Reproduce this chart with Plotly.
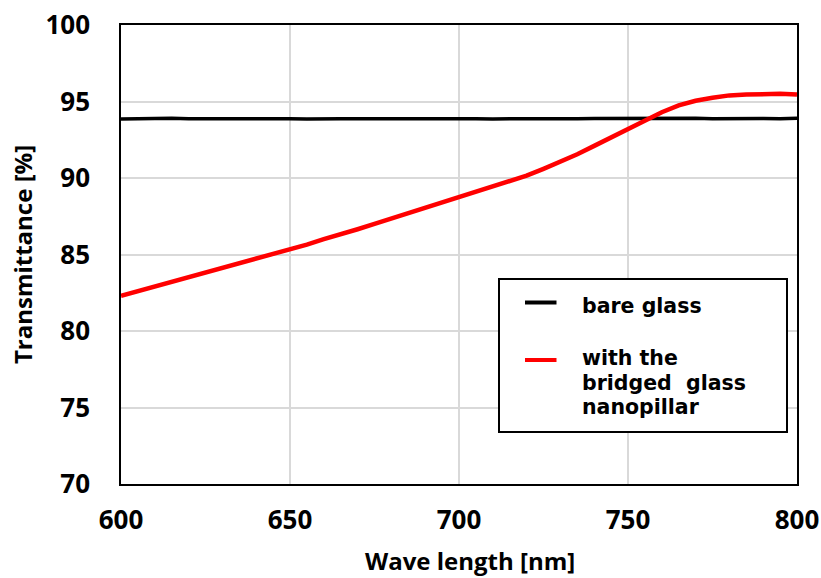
import plotly.graph_objects as go

wavelength = [600, 605, 610, 615, 620, 625, 630, 635, 640, 645, 650, 655, 660, 665, 670,
              675, 680, 685, 690, 695, 700, 705, 710, 715, 720, 725, 730, 735, 740, 745,
              750, 755, 760, 765, 770, 775, 780, 785, 790, 795, 800]

bare_glass = [93.85, 93.88, 93.86, 93.9, 93.87, 93.89, 93.86, 93.88, 93.87, 93.9, 93.88,
              93.86, 93.89, 93.87, 93.88, 93.9, 93.87, 93.88, 93.89, 93.87, 93.9, 93.88,
              93.86, 93.89, 93.88, 93.87, 93.9, 93.88, 93.89, 93.9, 93.91, 93.9, 93.88,
              93.9, 93.91, 93.88, 93.9, 93.87, 93.89, 93.88, 93.9]

nanopillar = [82.3, 82.6, 82.9, 83.2, 83.5, 83.8, 84.1, 84.4, 84.75, 85.05, 85.35,
              85.65, 86.0, 86.3, 86.65, 87.0, 87.35, 87.7, 88.05, 88.4, 88.75, 89.1,
              89.45, 89.8, 90.15, 90.6, 91.05, 91.55, 92.1, 92.65, 93.2, 93.75, 94.3,
              94.75, 95.05, 95.25, 95.4, 95.45, 95.5, 95.5, 95.45]

series_names = ["bare glass", "with the|bridged\u00a0\u00a0glass|nanopillar"]
series_colors = ["black", "#ff0000"]

x_ticks = [600, 650, 700, 750, 800]
y_ticks = [70, 75, 80, 85, 90, 95, 100]
x_title = "Wave length [nm]"
y_title = "Transmittance [%]"

FONT = "Open Sans"
LEG_FONT = "DejaVu Sans"
W, H = 821, 578
ML, MR, MT, MB = 121, 24, 25, 94
PW, PH = W - ML - MR, H - MT - MB


def px(xp):
    return (xp - ML) / PW


def py(yp):
    return (H - MB - yp) / PH


fig = go.Figure()
fig.add_trace(go.Scatter(x=wavelength, y=bare_glass, mode="lines", name="bare glass",
                         line=dict(color=series_colors[0], width=3.5)))
fig.add_trace(go.Scatter(x=wavelength, y=nanopillar, mode="lines",
                         name="with the bridged glass nanopillar",
                         line=dict(color=series_colors[1], width=4.5)))

# manual legend
shapes = [dict(type="rect", xref="paper", yref="paper",
               x0=px(499), x1=px(787), y0=py(432), y1=py(279),
               line=dict(color="black", width=2), fillcolor="white", layer="above")]
annotations = []
legend_rows = [302.5, 360]
text_rows = [305.5, 358.5]
line_gap = 24
for name, color, yrow, trow in zip(series_names, series_colors, legend_rows, text_rows):
    shapes.append(dict(type="line", xref="paper", yref="paper",
                       x0=px(525), x1=px(556.5), y0=py(yrow), y1=py(yrow),
                       line=dict(color=color, width=4), layer="above"))
    for i, part in enumerate(name.split("|")):
        annotations.append(dict(text=part, xref="paper", yref="paper",
                                x=px(580), y=py(trow + i * line_gap),
                                xanchor="left", yanchor="middle", showarrow=False,
                                font=dict(family=LEG_FONT, size=20.5, color="black",
                                          weight="bold")))

annotations.append(dict(text=x_title, xref="paper", yref="paper",
                        x=px(470), y=py(560), xanchor="center", yanchor="middle",
                        showarrow=False,
                        font=dict(family=FONT, size=24, color="black", weight="bold")))

fig.update_layout(
    width=W, height=H,
    margin=dict(l=ML, r=MR, t=MT, b=MB, autoexpand=False),
    paper_bgcolor="white", plot_bgcolor="white",
    font=dict(family=FONT, color="black"),
    showlegend=False,
    shapes=shapes,
    annotations=annotations,
    xaxis=dict(
        range=[600, 800], tickvals=x_ticks, ticks="",
        showgrid=True, gridcolor="#d9d9d9", gridwidth=1.5,
        showline=True, linecolor="black", linewidth=1.5, mirror=True,
        zeroline=False, automargin=False, ticklabeloverflow="allow",
        tickfont=dict(family=FONT, size=26, weight="bold"),
        ticklabelstandoff=12,
    ),
    yaxis=dict(
        range=[70, 100], tickvals=y_ticks, ticks="",
        showgrid=True, gridcolor="#d9d9d9", gridwidth=1.5,
        showline=True, linecolor="black", linewidth=1.5, mirror=True,
        zeroline=False, automargin=False, ticklabeloverflow="allow",
        tickfont=dict(family=FONT, size=26, weight="bold"),
        ticklabelstandoff=24,
        title=dict(text=y_title, font=dict(family=FONT, size=24, weight="bold"),
                   standoff=6),
    ),
)

fig.write_html("out.html")
